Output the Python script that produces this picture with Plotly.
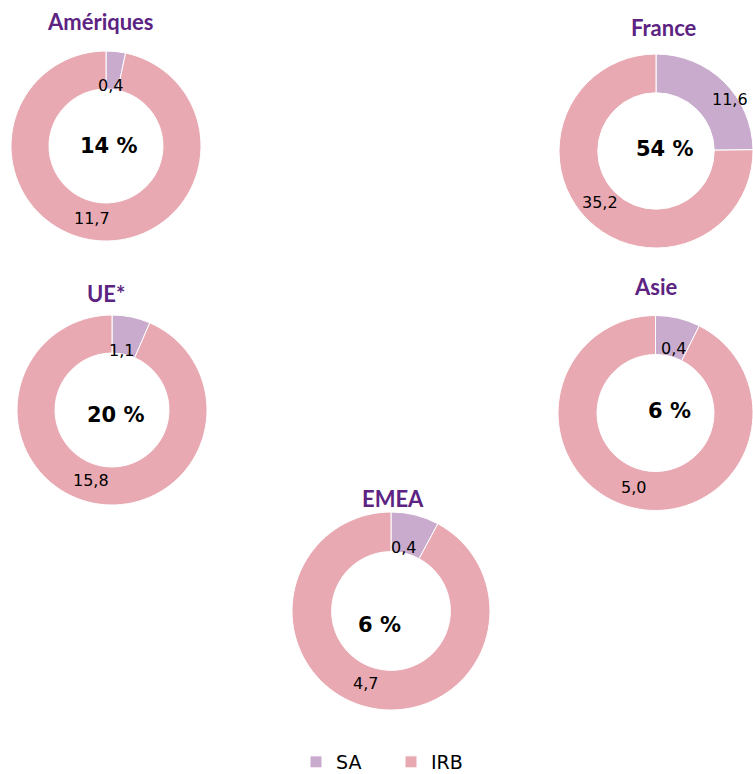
import math
import plotly.graph_objects as go

# ---- data ----
REGIONS = ["Amériques", "France", "UE*", "Asie", "EMEA"]
SERIES = ["SA", "IRB"]
SA_VALUES = [0.4, 11.6, 1.1, 0.4, 0.4]
IRB_VALUES = [11.7, 35.2, 15.8, 5.0, 4.7]

# ---- style / layout ----
COLORS = ["#C9ACCD", "#E8A9B2"]
TITLE_COLOR = "#5C2382"
W, H = 753, 774
GEOM = [(106, 146, 95), (656, 151, 97), (112, 410, 95), (655.5, 413, 97.5), (391, 611, 99)]
LABEL_CENTER = [(106, 146, 95), (660, 151, 101), (112, 410, 95), (658.5, 413, 100.5), (391, 611, 99)]
TITLE_POS = [(100, 22), (664, 28), (106, 293), (656, 286), (393, 499)]
CENTER_OFF = [(2.5, -0.5), (5, -2), (3.5, 4.5), (10.5, -2.5), (-12, 13.5)]
SA_LABEL = [(0.64, -2), (0.86, 9), (0.63, -2.5), (0.66, 0), (0.65, -3)]
IRB_LABEL = (0.78, 5)


def px(x, y):
    return x / W, 1 - y / H


def fmt(v):
    return f"{v:.1f}".replace(".", ",")


def text_ann(x, y, text, size, family="DejaVu Sans", color="black"):
    ax, ay = px(x, y)
    return dict(x=ax, y=ay, text=text, showarrow=False, xref="paper", yref="paper",
                xanchor="center", yanchor="middle",
                font=dict(family=family, size=size, color=color))


grand = sum(SA_VALUES) + sum(IRB_VALUES)
fig = go.Figure()
ann = []
for i, reg in enumerate(REGIONS):
    cx, cy, r = GEOM[i]
    sa, irb = SA_VALUES[i], IRB_VALUES[i]
    fig.add_trace(go.Pie(
        labels=SERIES, values=[sa, irb], name=reg, hole=0.6, sort=False,
        direction="clockwise", rotation=0,
        marker=dict(colors=COLORS, line=dict(color="white", width=1)),
        textinfo="none", hovertemplate="%{label}: %{value}<extra>" + reg + "</extra>",
        domain=dict(x=[max(0, (cx - r) / W), min(1, (cx + r) / W)],
                    y=[1 - (cy + r) / H, 1 - (cy - r) / H]),
        showlegend=(i == 0),
    ))
    tot = sa + irb
    ann.append(text_ann(*TITLE_POS[i], f"<b>{reg}</b>", 22, family="Lato", color=TITLE_COLOR))
    lcx, lcy, lr = LABEL_CENTER[i]
    ox, oy = CENTER_OFF[i]
    ann.append(text_ann(lcx + ox, lcy + oy, f"<b>{round(100 * tot / grand)} %</b>", 21))
    fsa = sa / tot
    f, da = SA_LABEL[i]
    th = math.radians(fsa * 180 + da)
    ann.append(text_ann(lcx + lr * f * math.sin(th), lcy - lr * f * math.cos(th), fmt(sa), 16))
    f, da = IRB_LABEL
    th = math.radians(fsa * 360 + (1 - fsa) * 180 + da)
    ann.append(text_ann(lcx + lr * f * math.sin(th), lcy - lr * f * math.cos(th), fmt(irb), 16))

lgx, lgy = px(296, 762)
fig.update_layout(
    width=W, height=H,
    margin=dict(l=0, r=0, t=0, b=0, autoexpand=False),
    paper_bgcolor="white", plot_bgcolor="white",
    font=dict(family="DejaVu Sans", color="black"),
    annotations=ann,
    legend=dict(orientation="h", x=lgx, y=lgy, xanchor="left", yanchor="middle",
                font=dict(size=19, color="black"), entrywidth=50, entrywidthmode="pixels"),
)

fig.write_html("out.html", config={"displayModeBar": False},
               post_script="document.body.style.margin='0';document.body.style.overflow='hidden';")
